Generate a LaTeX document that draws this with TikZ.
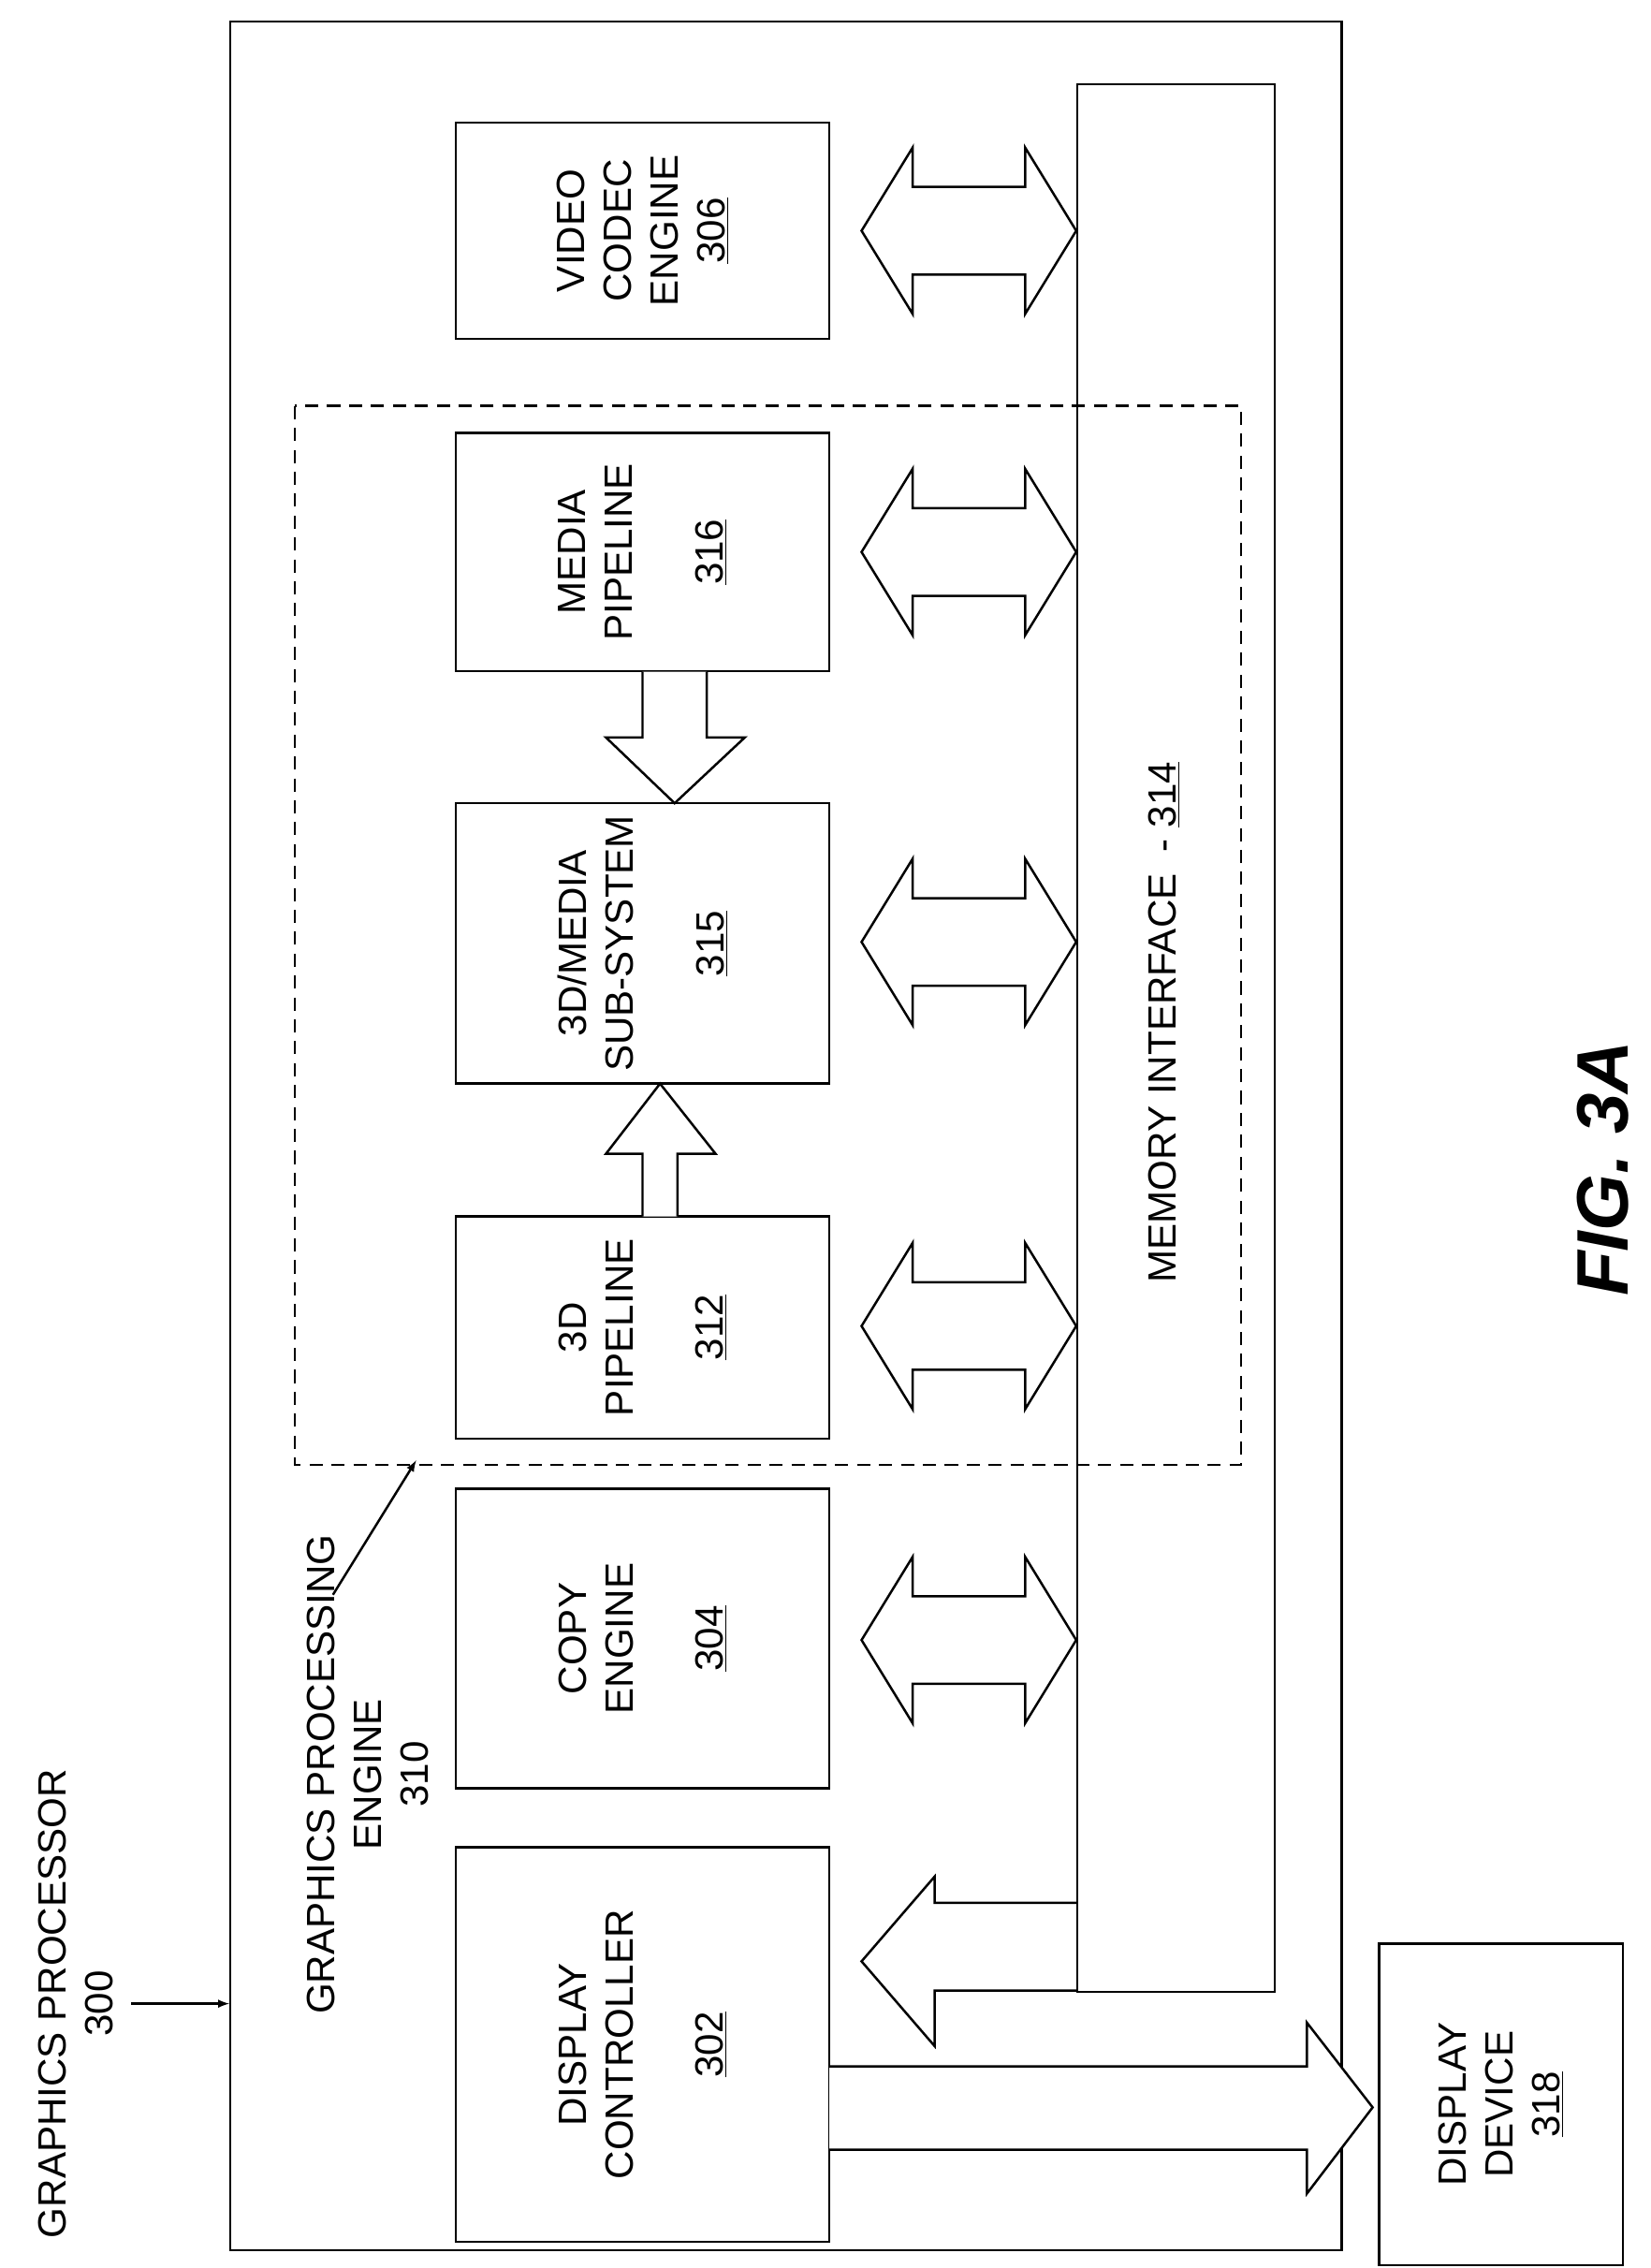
\documentclass[tikz,border=0pt]{standalone}
\usepackage{fontspec}
\setmainfont{Liberation Sans}
\usetikzlibrary{positioning}

\tikzset{
    blk/.style={draw, line width=1.6pt, minimum width=#1, minimum height=256pt, rotate=90,
        align=center, font=\fontsize{27}{32}\selectfont},
    lbl/.style={rotate=90, align=center, font=\fontsize{27}{32}\selectfont},
    barrow/.style={draw, line width=1.6pt, fill=white, line join=miter}
}
\newcommand{\dblarrow}[3]{% x1, x2, y center
    \path[barrow] (#1,#3) -- (#1+35,#3-57) -- (#1+35,#3-30) -- (#2-35,#3-30) -- (#2-35,#3-57)
        -- (#2,#3) -- (#2-35,#3+57) -- (#2-35,#3+30) -- (#1+35,#3+30) -- (#1+35,#3+57) -- cycle;}

\begin{document}
\begin{tikzpicture}[x=1pt, y=-1pt]
    \useasboundingbox (0,0) rectangle (1130,1553);
    % outer frame and memory bar
    \node[draw, line width=1.6pt, minimum width=761pt, minimum height=1526pt, anchor=north west] (gp) at (157,14) {};
    \node[draw, line width=1.6pt, minimum width=135pt, minimum height=1306pt, anchor=north west] (mem) at (737,57) {};
    \node[lbl] at (797,700) {MEMORY INTERFACE \ - \underline{314}};
    \draw[line width=1.6pt, dashed, dash pattern=on 9pt off 6pt] (202,278) rectangle (850,1003);
    % engine blocks
    \node[blk=148pt] (video) at (440,158) {VIDEO\\CODEC\\ENGINE\\\underline{306}};
    \node[blk=163pt] (media) at (440,378) {MEDIA\\PIPELINE\\[30pt]\underline{316}};
    \node[blk=192pt] (sub) at (440,646) {3D/MEDIA\\SUB-SYSTEM\\[30pt]\underline{315}};
    \node[blk=152pt] (pipe) at (440,909) {3D\\PIPELINE\\[30pt]\underline{312}};
    \node[blk=205pt] (copy) at (440,1122) {COPY\\ENGINE\\[30pt]\underline{304}};
    \node[blk=270pt] (disp) at (440,1400) {DISPLAY\\CONTROLLER\\[30pt]\underline{302}};
    \node[draw, line width=1.6pt, minimum width=220pt, minimum height=167pt, rotate=90,
        align=center, font=\fontsize{27}{32}\selectfont] (dev) at (1028,1441) {DISPLAY\\DEVICE\\\underline{318}};
    % block arrows to memory interface
    \foreach \yc in {158,378,645,908,1123} {\dblarrow{590}{737}{\yc}}
    % memory -> display controller
    \path[barrow] (737,1303) -- (640,1303) -- (640,1285) -- (590,1343) -- (640,1401) -- (640,1363) -- (737,1363);
    % display controller -> display device
    \path[barrow] (568,1415) -- (895,1415) -- (895,1385) -- (940,1443) -- (895,1502) -- (895,1472) -- (568,1472);
    % media -> sub-system, pipeline -> sub-system
    \path[barrow] (440,460) -- (440,505) -- (415,505) -- (462,550) -- (510,505) -- (484,505) -- (484,460);
    \path[barrow] (440,833) -- (440,790) -- (415,790) -- (452,742) -- (490,790) -- (464,790) -- (464,833);
    % outside labels
    \node[lbl] (gplbl) at (52,1372) {GRAPHICS PROCESSOR\\300};
    \draw[line width=1.6pt, -latex] (90,1372) -- (gp.west |- 0,1372);
    \node[lbl] (gelbl) at (252,1215) {GRAPHICS PROCESSING\\ENGINE\\310};
    \coordinate (getip) at (285,1000);
    \draw[line width=1.6pt, -latex] (228,1092) -- (getip);
    \node[rotate=90, font=\fontsize{50}{60}\selectfont\bfseries\itshape] (fig) at (1098,800) {FIG. 3A};
\end{tikzpicture}
\end{document}
